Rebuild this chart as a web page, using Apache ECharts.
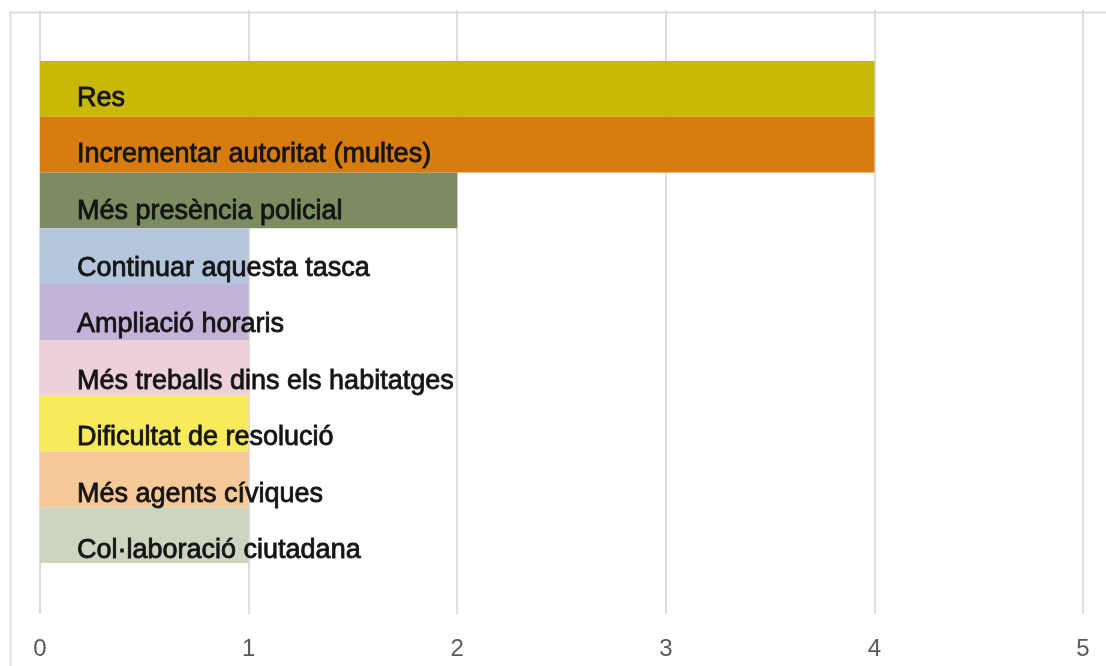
<!DOCTYPE html>
<html>
<head>
<meta charset="utf-8">
<script src="https://cdn.jsdelivr.net/npm/echarts@6/dist/echarts.min.js"></script>
<style>
html,body{margin:0;padding:0;background:#fff;}
#chart{width:1106px;height:666px;}
</style>
</head>
<body>
<div id="chart"></div>
<script>
const categories = ["Res", "Incrementar autoritat (multes)", "Més presència policial", "Continuar aquesta tasca", "Ampliació horaris", "Més treballs dins els habitatges", "Dificultat de resolució", "Més agents cíviques", "Col·laboració ciutadana"];
const values = [4, 4, 2, 1, 1, 1, 1, 1, 1];
const colors = ["#c9b808", "#d97c10", "#7b8c60", "#b4c6dc", "#c4b3d9", "#ecd1d9", "#f9ea5b", "#f7c999", "#cdd5c1"];
const xTicks = [0, 1, 2, 3, 4, 5];

const chart = echarts.init(document.getElementById('chart'));
const series = categories.map((name, i) => ({
  name: name,
  type: 'bar',
  barGap: '0%',
  barCategoryGap: '16.9%',
  data: [values[i]],
  itemStyle: { color: colors[i] },
  label: {
    show: true,
    position: 'insideLeft',
    offset: [32, 9.5 + i * 0.8],
    formatter: name,
    fontFamily: 'Liberation Sans, Arial, sans-serif',
    fontSize: 27,
    color: '#141414',
    textBorderColor: '#141414',
    textBorderWidth: 0.8
  },
  emphasis: { disabled: true },
  animation: false
}));

chart.setOption({
  backgroundColor: '#ffffff',
  animation: false,
  grid: { left: 40, right: 23, top: 10, bottom: 52, containLabel: false },
  xAxis: {
    type: 'value',
    min: xTicks[0],
    max: xTicks[xTicks.length - 1],
    interval: 1,
    axisLine: { show: false },
    axisTick: { show: false },
    splitLine: { show: true, lineStyle: { color: '#dcdcdc', width: 2 } },
    axisLabel: {
      margin: 23,
      fontFamily: 'Liberation Sans, Arial, sans-serif',
      fontSize: 24,
      color: '#5a5a5a'
    }
  },
  yAxis: {
    type: 'category',
    data: [''],
    inverse: true,
    axisLine: { show: false },
    axisTick: { show: false },
    axisLabel: { show: false }
  },
  graphic: [{
    type: 'rect',
    left: 8, top: 10,
    shape: { x: 0, y: 0, width: 1200, height: 1000 },
    style: { fill: 'none', stroke: '#dcdcdc', lineWidth: 2 },
    silent: true,
    z: -1
  }],
  series: series
});
</script>
</body>
</html>
